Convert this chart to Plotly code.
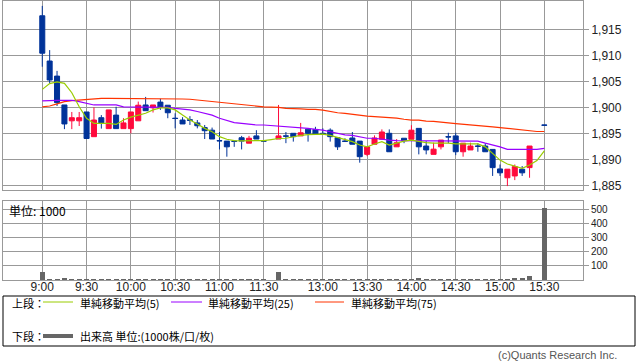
import plotly.graph_objects as go

# ---------------- data ----------------
morning = [f"{h}:{m:02d}" for h in (9, 10, 11) for m in range(0, 60, 5)][:31]          # 9:00 .. 11:30
afternoon = [f"{h}:{m:02d}" for h in (12, 13, 14, 15) for m in range(0, 60, 5)][5:43]  # 12:25 .. 15:30
slots = morning + afternoon

tick_labels = ["9:00", "9:30", "10:00", "10:30", "11:00", "11:30",
               "13:00", "13:30", "14:00", "14:30", "15:00", "15:30"]

N = None
opens = [1917.6, 1908.9, 1906.0, 1900.45, 1897.4, 1897.4, 1899.1, 1894.35, 1898.0, 1895.9,
         1898.5, 1895.9, 1895.9, 1897.4, 1900.45, 1899.9, 1901.0, 1900.4, 1897.9, 1897.55,
         1897.6, 1897.0, 1896.1, 1895.6, 1893.6, 1893.5, 1893.5, 1894.15, 1893.1, 1894.5,
         1893.55, N, 1893.9, 1894.5, 1895.0, 1894.5, 1895.8, 1895.75, 1895.0, 1895.6,
         1894.15, 1893.5, 1894.1, 1893.5, 1890.95, 1892.9, 1893.85, 1895.0, 1892.4, 1894.05,
         1893.85, 1895.95, 1892.55, 1890.95, 1892.4, 1894.35, 1894.5, 1891.45, 1891.8, 1892.55,
         1892.55, 1891.9, 1888.15, 1886.45, 1886.8, 1888.1, 1888.4, N, 1896.6]
highs = [1919.5, 1911.0, 1907.0, 1900.45, 1899.1, 1899.1, 1899.1, 1900.0, 1898.5, 1899.5,
         1900.1, 1897.9, 1899.1, 1901.1, 1902.0, 1900.45, 1901.65, 1900.4, 1898.85, 1898.1,
         1898.3, 1897.55, 1896.6, 1896.1, 1895.25, 1893.5, 1893.5, 1894.5, 1894.5, 1895.6,
         1893.55, N, 1900.45, 1895.25, 1895.0, 1897.0, 1895.8, 1896.25, 1895.95, 1895.95,
         1894.15, 1894.05, 1895.25, 1893.5, 1892.4, 1894.6, 1895.75, 1895.75, 1893.9, 1894.05,
         1896.55, 1895.95, 1893.5, 1893.2, 1893.7, 1895.1, 1895.1, 1893.1, 1893.2, 1893.1,
         1893.1, 1891.9, 1889.0, 1888.1, 1889.0, 1888.7, 1892.55, N, 1896.6]
lows = [1907.8, 1904.6, 1900.25, 1895.8, 1895.8, 1896.4, 1894.0, 1894.35, 1895.9, 1895.9,
        1895.9, 1895.9, 1895.0, 1897.4, 1899.35, 1899.0, 1899.5, 1897.9, 1895.95, 1896.8,
        1896.6, 1895.95, 1893.9, 1893.9, 1891.9, 1890.5, 1892.4, 1891.9, 1893.1, 1893.9,
        1893.5, N, 1893.9, 1893.1, 1893.4, 1894.5, 1893.4, 1894.85, 1894.85, 1893.4,
        1891.8, 1893.4, 1892.9, 1889.35, 1890.6, 1892.9, 1893.85, 1891.45, 1892.4, 1893.1,
        1893.85, 1890.95, 1890.95, 1890.95, 1891.9, 1893.1, 1890.8, 1890.5, 1891.8, 1891.45,
        1891.45, 1886.8, 1886.8, 1884.85, 1886.0, 1886.8, 1886.45, N, 1896.55]
closes = [1910.4, 1905.25, 1900.9, 1896.8, 1898.0, 1898.0, 1894.0, 1897.55, 1897.0, 1899.5,
          1895.9, 1897.0, 1899.1, 1900.4, 1899.35, 1900.45, 1900.0, 1898.95, 1897.85, 1896.8,
          1897.5, 1896.45, 1895.5, 1893.9, 1893.55, 1892.4, 1893.45, 1893.5, 1894.05, 1893.9,
          1893.5, N, 1894.5, 1894.45, 1894.35, 1895.1, 1895.0, 1894.85, 1894.95, 1894.35,
          1892.4, 1893.45, 1892.9, 1890.5, 1892.4, 1894.1, 1895.25, 1891.45, 1893.2, 1893.6,
          1895.6, 1892.4, 1891.8, 1891.95, 1893.7, 1894.3, 1891.45, 1893.1, 1892.55, 1892.5,
          1891.45, 1888.4, 1887.4, 1888.1, 1888.6, 1887.4, 1892.55, N, 1896.55]

volume = [57, 6, 6, 12, 6, 6, 6, 6, 3, 3,
          3, 3, 6, 6, 3, 3, 3, 3, 3, 3,
          6, 3, 6, 3, 6, 3, 3, 3, 3, 3,
          3, 0, 57, 6, 3, 6, 3, 3, 3, 6,
          3, 3, 3, 6, 3, 3, 3, 3, 3, 3,
          6, 12, 3, 3, 3, 3, 6, 3, 3, 3,
          3, 6, 6, 6, 8, 14, 28, 0, 516]

ma5 = [1903.45, 1904.55, 1904.9, 1904.6, 1902.8, 1900.1, 1897.9, 1896.9, 1896.9, 1896.9,
       1896.7, 1897.55, 1898.1, 1898.5, 1898.85, 1899.5, 1899.9, 1899.9, 1899.5, 1898.5,
       1897.55, 1896.8, 1895.95, 1895.3, 1894.35, 1893.85, 1893.6, 1893.55, 1893.55, 1893.55,
       1893.6, 1893.8, 1894.0, 1894.05, 1894.35, 1894.6, 1894.75, 1894.85, 1894.85, 1894.6,
       1894.2, 1893.85, 1893.4, 1892.75, 1892.4, 1892.95, 1893.4, 1892.75, 1893.2, 1893.5,
       1893.7, 1893.4, 1893.2, 1893.1, 1893.1, 1893.1, 1892.95, 1892.95, 1892.95, 1892.95,
       1892.4, 1891.15, 1889.85, 1889.1, 1888.6, 1888.25, 1888.9, 1889.75, 1891.6]
ma25 = [1901.25, 1901.35, 1901.35, 1901.35, 1901.35, 1901.1, 1900.75, 1900.45, 1900.45, 1900.45,
        1900.45, 1900.1, 1900.1, 1900.1, 1900.1, 1900.1, 1900.1, 1900.0, 1899.8, 1899.65,
        1899.5, 1899.2, 1898.85, 1898.5, 1897.9, 1897.4, 1897.05, 1896.9, 1896.75, 1896.6,
        1896.6, 1896.5, 1896.4, 1896.25, 1896.15, 1896.05, 1895.95, 1895.75, 1895.6, 1895.3,
        1895.0, 1894.7, 1894.6, 1894.35, 1894.05, 1894.05, 1893.85, 1893.7, 1893.6, 1893.6,
        1893.6, 1893.6, 1893.6, 1893.6, 1893.6, 1893.5, 1893.5, 1893.5, 1893.5, 1893.5,
        1893.1, 1892.75, 1892.4, 1891.9, 1891.9, 1891.9, 1891.9, 1891.9, 1892.1]
ma75 = [1900.1, 1900.25, 1900.65, 1901.1, 1901.3, 1901.4, 1901.55, 1901.7, 1901.7, 1901.7,
        1901.7, 1901.7, 1901.7, 1901.7, 1901.7, 1901.7, 1901.7, 1901.7, 1901.7, 1901.6,
        1901.55, 1901.4, 1901.3, 1901.1, 1900.95, 1900.75, 1900.65, 1900.55, 1900.4, 1900.25,
        1900.1, 1900.05, 1900.0, 1899.8, 1899.8, 1899.7, 1899.6, 1899.6, 1899.45, 1899.15,
        1898.95, 1898.85, 1898.65, 1898.5, 1898.3, 1898.2, 1898.1, 1898.05, 1897.9, 1897.7,
        1897.55, 1897.55, 1897.35, 1897.3, 1897.1, 1897.0, 1896.85, 1896.75, 1896.6, 1896.5,
        1896.35, 1896.25, 1896.1, 1895.95, 1895.8, 1895.6, 1895.45, 1895.35, 1895.35]

price_ticks = [1885, 1890, 1895, 1900, 1905, 1910, 1915]
volume_ticks = [100, 200, 300, 400, 500]

# ---------------- styling ----------------
W, H = 638, 362
ML, MR, MT, MB = 3, 55, 1, 82
PW, PH = W - ML - MR, H - MT - MB

RED = "#ff0a3c"
BLUE = "#003399"
GRID = "#999999"
C5, C25, C75 = "#99cc00", "#9900ff", "#ff3300"
VOLC = "#666666"
FONT = "Liberation Sans, DejaVu Sans, sans-serif"
JFONT = "Noto Sans CJK JP, sans-serif"


def px_x(px):
    return (px - ML) / PW


def px_y(py):
    return (MT + PH - py) / PH


xs = list(range(len(slots)))
cidx = [i for i in xs if opens[i] is not None]
tickvals = [slots.index(t) for t in tick_labels]

fig = go.Figure()
fig.add_trace(go.Candlestick(
    x=[xs[i] for i in cidx], open=[opens[i] for i in cidx], high=[highs[i] for i in cidx],
    low=[lows[i] for i in cidx], close=[closes[i] for i in cidx],
    text=[slots[i] for i in cidx],
    increasing=dict(line=dict(color=RED, width=1), fillcolor=RED),
    decreasing=dict(line=dict(color=BLUE, width=1), fillcolor=BLUE),
    whiskerwidth=0, xaxis="x", yaxis="y", showlegend=False, hoverinfo="skip"))
for vals, col in ((ma75, C75), (ma25, C25), (ma5, C5)):
    fig.add_trace(go.Scatter(x=xs, y=vals, mode="lines", line=dict(color=col, width=1.2),
                             xaxis="x", yaxis="y", showlegend=False, hoverinfo="skip"))
fig.add_trace(go.Bar(x=xs, y=volume, marker=dict(color=VOLC, line=dict(width=0)), width=0.68,
                     xaxis="x2", yaxis="y2", showlegend=False, hoverinfo="skip"))

xr = [-5.32, 73.24]
dom1 = [px_y(190), 1]
dom2 = [0, px_y(201)]
yr1 = [1900 - (190 - 107.3) / 5.2, 1900 - (MT - 107.3) / 5.2]

common_x = dict(range=xr, tickvals=tickvals, ticktext=tick_labels, showgrid=True,
                gridcolor=GRID, gridwidth=1, zeroline=False, showline=True, mirror=True,
                linecolor=GRID, linewidth=1, rangeslider=dict(visible=False), fixedrange=True)

fig.update_layout(
    width=W, height=H, margin=dict(l=ML, r=MR, t=MT, b=MB),
    paper_bgcolor="white", plot_bgcolor="white",
    boxgap=0.32, boxgroupgap=0, bargap=0,
    xaxis=dict(common_x, anchor="y", showticklabels=False, ticks=""),
    xaxis2=dict(common_x, anchor="y2", matches="x", showticklabels=True, ticks="",
                ticklabelstandoff=-4,
                tickfont=dict(family=FONT, size=12, color="#222")),
    yaxis=dict(domain=dom1, range=yr1, side="right", tickvals=price_ticks, tickformat=",d",
               showgrid=True, gridcolor=GRID, zeroline=False, showline=True, mirror=True,
               linecolor=GRID, ticks="outside", ticklen=5, tickcolor=GRID,
               tickfont=dict(family=FONT, size=12, color="#222"), anchor="x"),
    yaxis2=dict(domain=dom2, range=[0, 564], side="right", tickvals=volume_ticks,
                showgrid=True, gridcolor=GRID, zeroline=False, showline=True, mirror=True,
                linecolor=GRID, ticks="outside", ticklen=5, tickcolor=GRID,
                tickfont=dict(family=FONT, size=10, color="#222"), anchor="x2"),
)

shapes = [dict(type="rect", xref="paper", yref="paper", x0=px_x(3), x1=px_x(635),
               y0=px_y(296), y1=px_y(346), line=dict(color="black", width=1))]
for (a, b, yy, col, w) in ((43, 73, 302, C5, 1), (171, 202, 302, C25, 1), (315, 344, 302, C75, 1),
                           (43, 73, 336, VOLC, 4)):
    shapes.append(dict(type="line", xref="paper", yref="paper", x0=px_x(a), x1=px_x(b),
                       y0=px_y(yy), y1=px_y(yy), line=dict(color=col, width=w)))
fig.update_layout(shapes=shapes)

ann = [("単位: 1000", 7, 210, 12, "left", "black"),
       ("上段：", 10, 303, 11, "left", "black"),
       ("単純移動平均(5)", 78, 303, 11, "left", "black"),
       ("単純移動平均(25)", 206, 303, 11, "left", "black"),
       ("単純移動平均(75)", 349, 303, 11, "left", "black"),
       ("下段：", 10, 336, 11, "left", "black"),
       ("出来高 単位:(1000株/口/枚)", 78, 336, 11, "left", "black"),
       ("(c)Quants Research Inc.", 619, 355, 11, "right", "#555555")]
fig.update_layout(annotations=[
    dict(text=t, xref="paper", yref="paper", x=px_x(x), y=px_y(y), xanchor=xa, yanchor="middle",
         showarrow=False, font=dict(family=JFONT if any(ord(c) > 255 for c in t) else FONT,
                                    size=s, color=c))
    for (t, x, y, s, xa, c) in ann])

fig.write_html("out.html")
